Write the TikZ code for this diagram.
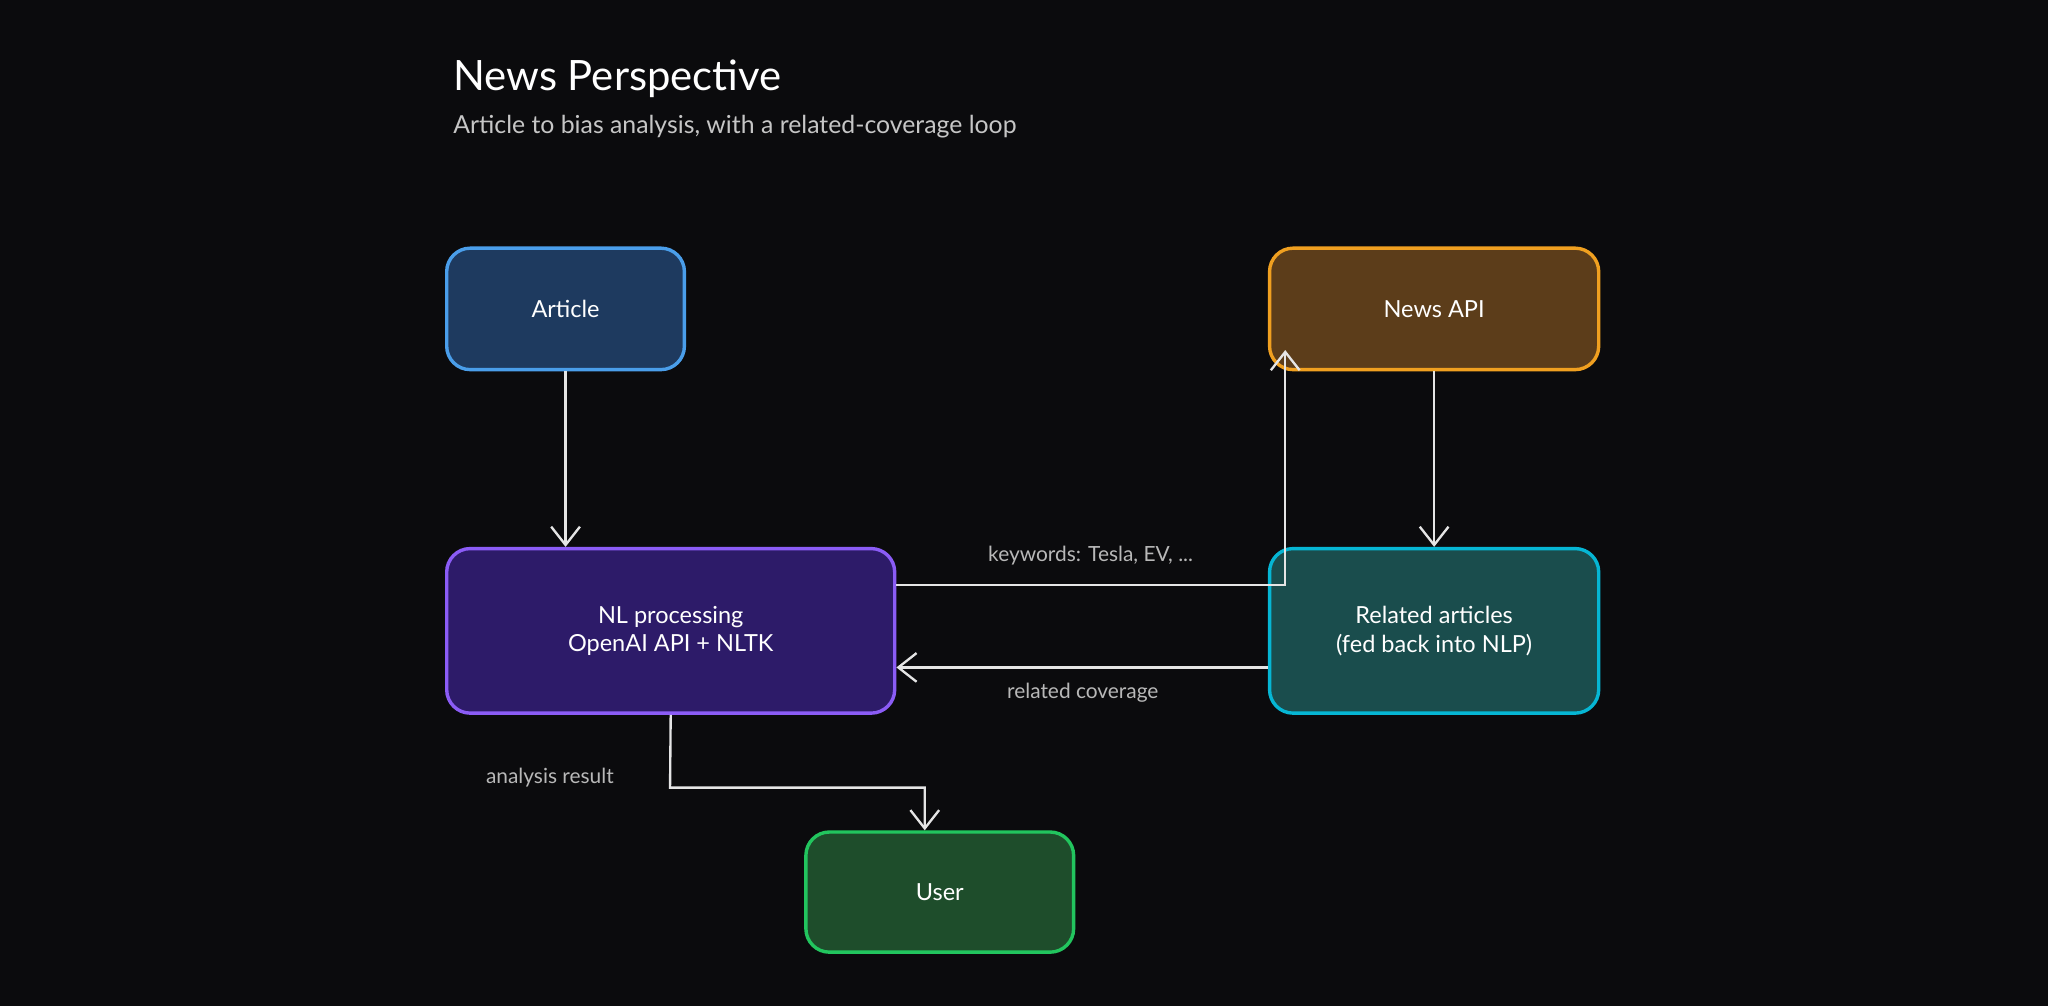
\documentclass[tikz,border=0pt]{standalone}
\usepackage{fontspec}
\setmainfont{Lato}
\usetikzlibrary{arrows.meta}
\definecolor{bg}{HTML}{0B0B0D}
\definecolor{artF}{HTML}{1E3A5F}\definecolor{artD}{HTML}{4A9EEA}
\definecolor{apiF}{HTML}{5C3D1A}\definecolor{apiD}{HTML}{F0A020}
\definecolor{nlF}{HTML}{2D1B69}\definecolor{nlD}{HTML}{8B5CF6}
\definecolor{relF}{HTML}{1A4D4D}\definecolor{relD}{HTML}{06B6D4}
\definecolor{usF}{HTML}{1E4D2B}\definecolor{usD}{HTML}{22C55E}
\definecolor{lbl}{HTML}{B8B8B8}
\begin{document}
\begin{tikzpicture}[x=0.5pt,y=-0.5pt,
 box/.style={draw,line width=1.3pt,rounded corners=9pt,text=white,align=center,font=\fontsize{9}{11}\selectfont,inner sep=0},
 arr/.style={draw=white!90!black,line width=0.9pt,-{Straight Barb[length=7pt,width=11pt]}},
 lab/.style={text=lbl,font=\fontsize{8}{10}\selectfont}]
\fill[bg] (0,0) rectangle (1568,770);
\useasboundingbox (0,0) rectangle (1568,770);
\node[anchor=west,text=white,font=\fontsize{16}{19}\selectfont] (title) at (340,60) {News Perspective};
\node[anchor=west,text=lbl!80,font=\fontsize{9.5}{12}\selectfont] (sub) at (340,97) {Article to bias analysis, with a related-coverage loop};
\node[box,fill=artF,draw=artD,minimum width=182\pgflinewidth*0+91pt,minimum height=46.5pt] (art) at (433,236.5) {Article};
\node[box,fill=apiF,draw=apiD,minimum width=126pt,minimum height=46.5pt] (api) at (1098,236.5) {News API};
\node[box,fill=nlF,draw=nlD,minimum width=171.5pt,minimum height=63pt] (nl) at (513.5,483) {NL processing\\OpenAI API + NLTK};
\node[box,fill=relF,draw=relD,minimum width=126pt,minimum height=63pt] (rel) at (1098,483) {Related articles\\(fed back into NLP)};
\node[box,fill=usF,draw=usD,minimum width=102.5pt,minimum height=46pt] (user) at (719.5,683) {User};
\draw[arr] (art.south) -- (nl.north -| art.south);
\draw[arr] (api.south) -- (rel.north);
\coordinate (k1) at (984,448);
\coordinate (k2) at (984,268);
\draw[arr] (nl.east |- k1) -- (k1) -- (k2);
\node[lab] (kw) at (835,425) {keywords: Tesla, EV, ...};
\draw[arr] (rel.west |- 0,511) -- (nl.east |- 0,511);
\node[lab] (rc) at (829,530) {related coverage};
\coordinate (a1) at (513,603);
\coordinate (a2) at (708,603);
\draw[arr] (nl.south) -- (a1) -- (a2) -- (user.north -| a2);
\node[lab] (ar) at (421,595) {analysis result};
\end{tikzpicture}
\end{document}
